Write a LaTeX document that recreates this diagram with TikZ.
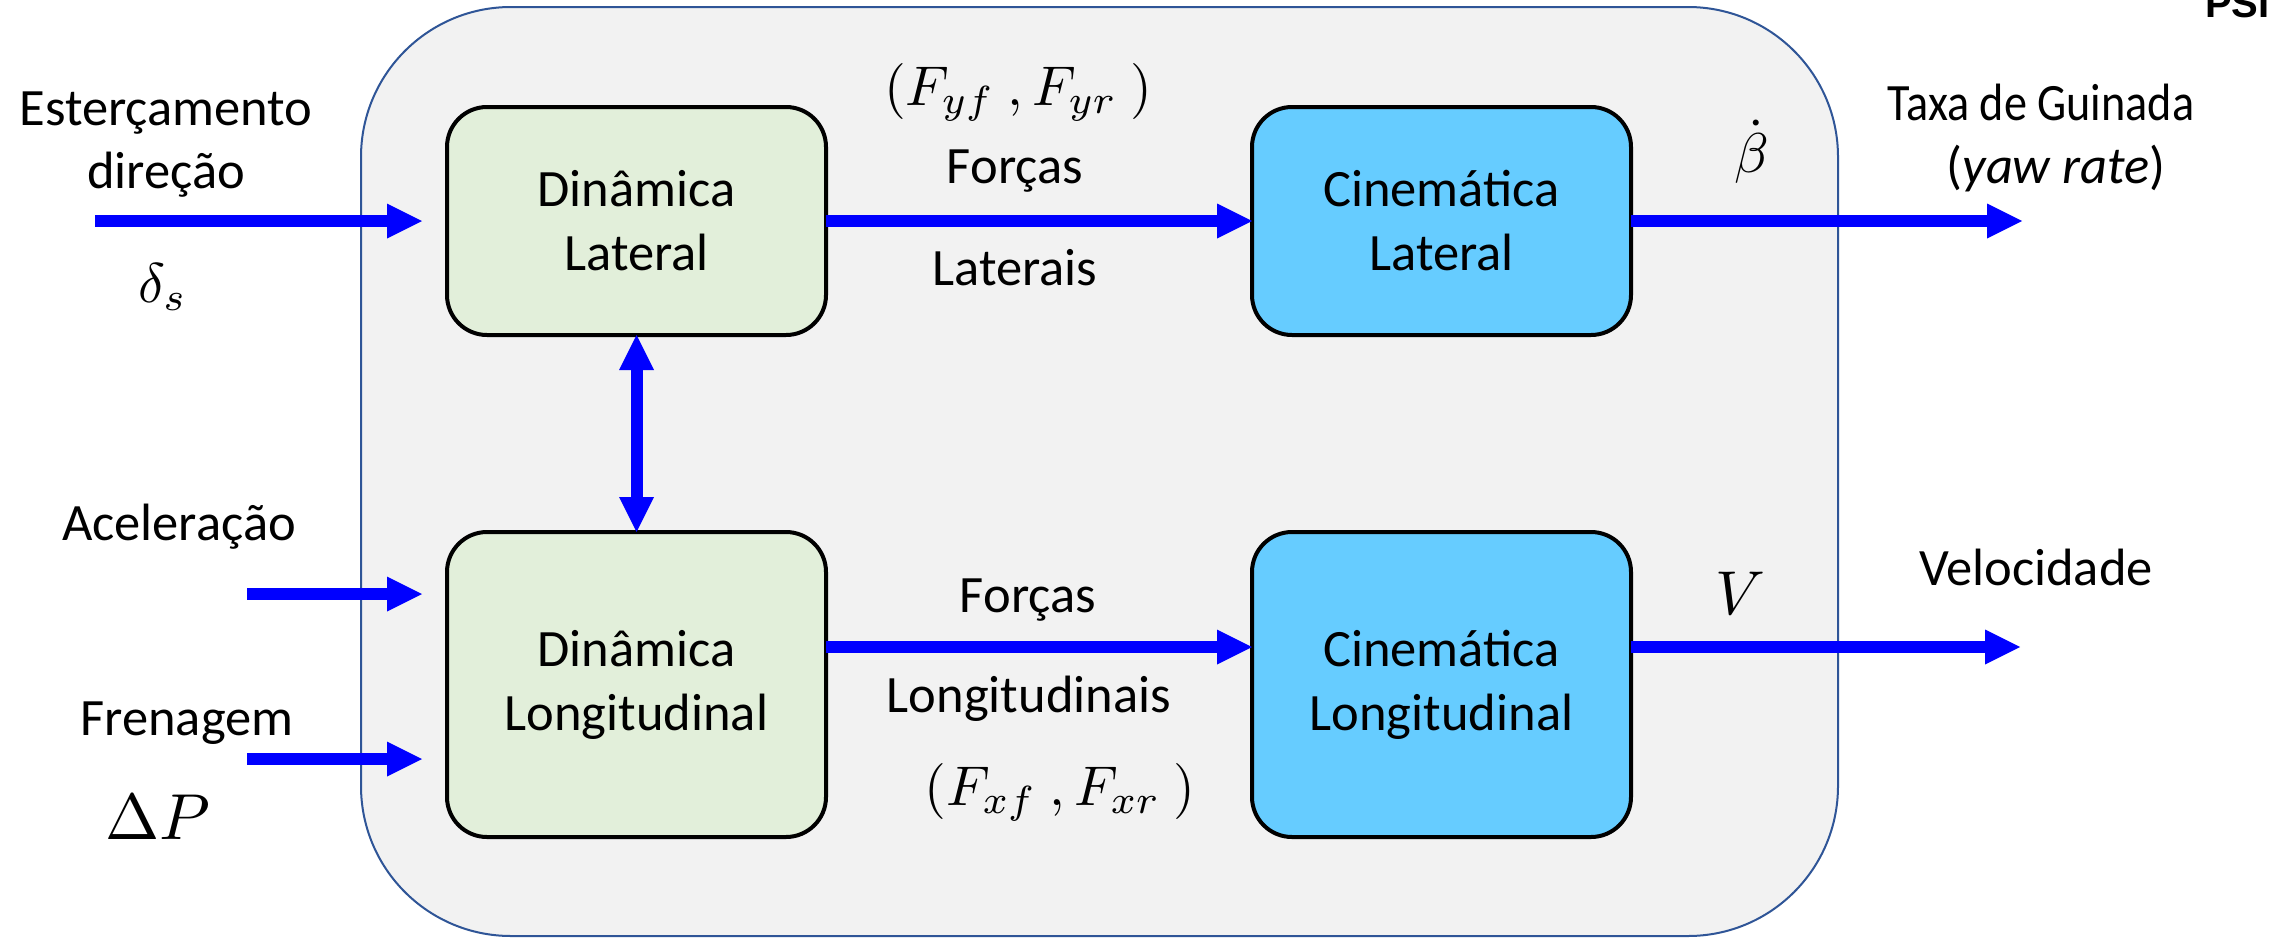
\documentclass[tikz,border=0pt]{standalone}
\usepackage{fontspec}
\setmainfont{Carlito}
\newfontfamily\psifont{Liberation Sans}
\usetikzlibrary{arrows.meta}
\definecolor{cgreen}{HTML}{E2EFDA}
\definecolor{cblue}{HTML}{66CCFF}
\definecolor{cbox}{HTML}{F2F2F2}
\definecolor{cedge}{HTML}{2F5597}
\definecolor{carrow}{HTML}{0000FF}
\begin{document}
\begin{tikzpicture}[x=1pt,y=-1pt,
  lbl/.style={font=\fontsize{52.5}{64}\selectfont, inner sep=0pt, outer sep=0pt},
  mth/.style={font=\fontsize{10}{12}\selectfont, inner sep=0pt, outer sep=0pt, scale=5.6},
  blockbox/.style={draw=black, line width=4pt, rounded corners=40pt, minimum width=379pt,
    align=center, inner sep=0pt, outer sep=0pt, font=\fontsize{52.5}{64}\selectfont},
  dynbox/.style={blockbox, fill=cgreen},
  kinbox/.style={blockbox, fill=cblue},
  sysbox/.style={draw=cedge, line width=2pt, fill=cbox, rounded corners=150pt,
    minimum width=1477pt, minimum height=929pt, inner sep=0pt, outer sep=0pt},
  flow/.style={draw=carrow, line width=12pt, -{Triangle[length=35pt,width=35pt,line width=0pt]}},
  flowboth/.style={draw=carrow, line width=12pt, {Triangle[length=35pt,width=35pt,line width=0pt]}-{Triangle[length=35pt,width=35pt,line width=0pt]}},
]
\useasboundingbox (0,0) rectangle (2270,937);
\fill[white] (0,0) rectangle (2270,937);

% system container
\node[sysbox] (sys) at (1099.5,471.5) {};

% blocks
\node[dynbox, minimum height=228pt] (G1) at (636.5,221) {Dinâmica\\Lateral};
\node[dynbox, minimum height=305pt] (G2) at (636.5,684.5) {Dinâmica\\Longitudinal};
\node[kinbox, minimum height=228pt] (B1) at (1441.5,221) {Cinemática\\Lateral};
\node[kinbox, minimum height=305pt] (B2) at (1441.5,684.5) {Cinemática\\Longitudinal};

% free ends
\coordinate (s1) at (95,221);
\coordinate (s2) at (247,594);
\coordinate (s3) at (247,759);
\coordinate (o1) at (2022,221);
\coordinate (o2) at (2020,647);

% connectors
\draw[flow, shorten >=25pt] (s1) -- (s1 -| G1.west);
\draw[flow, shorten >=25pt] (s2) -- (s2 -| G2.west);
\draw[flow, shorten >=25pt] (s3) -- (s3 -| G2.west);
\draw[flow] (G1.east) -- (B1.west);
\draw[flow] ([yshift=37.5pt]G2.east) -- ([yshift=37.5pt]B2.west);
\draw[flow] (B1.east) -- (o1);
\draw[flow] ([yshift=37.5pt]B2.east) -- (o2);
\draw[flowboth] (G1.south) -- (G2.north);

% input labels
\node[lbl, anchor=base] (t1) at (166,125) {Esterçamento};
\node[lbl, anchor=base] (t2) at (166,188) {direção};
\node[mth] (t3) at (163,287) {$\delta_s$};
\node[lbl, anchor=base] (t4) at (179,540) {Aceleração};
\node[lbl, anchor=base] (t5) at (187,735) {Frenagem};
\node[mth, scale=6.5/5.6] (t6) at (158,817) {$\Delta P$};

% middle labels
\node[mth, anchor=base] (m1) at (1018,105) {$(F_{yf}\ ,F_{yr}\ )$};
\node[lbl, anchor=base] (m2) at (1015,183) {Forças};
\node[lbl, anchor=base] (m3) at (1015,285) {Laterais};
\node[lbl, anchor=base] (m4) at (1028,612) {Forças};
\node[lbl, anchor=base] (m5) at (1029,712) {Longitudinais};
\node[mth, anchor=base] (m6) at (1060,805) {$(F_{xf}\ ,F_{xr}\ )$};

% output labels
\node[mth] (r1) at (1752,152) {$\dot{\beta}$};
\node[lbl, anchor=base, xscale=0.88] (r2) at (2041,120) {Taxa de Guinada};
\node[lbl, anchor=base] (r3) at (2056,183) {(\textit{yaw rate})};
\node[mth, scale=6.2/5.6] (r4) at (1740,593) {$V$};
\node[lbl, anchor=base] (r5) at (2036,585) {Velocidade};

% corner mark
\node[inner sep=0pt, anchor=base west, font=\psifont\bfseries\fontsize{40}{42}\selectfont] (psi) at (2205,17) {PSI};
\end{tikzpicture}
\end{document}
